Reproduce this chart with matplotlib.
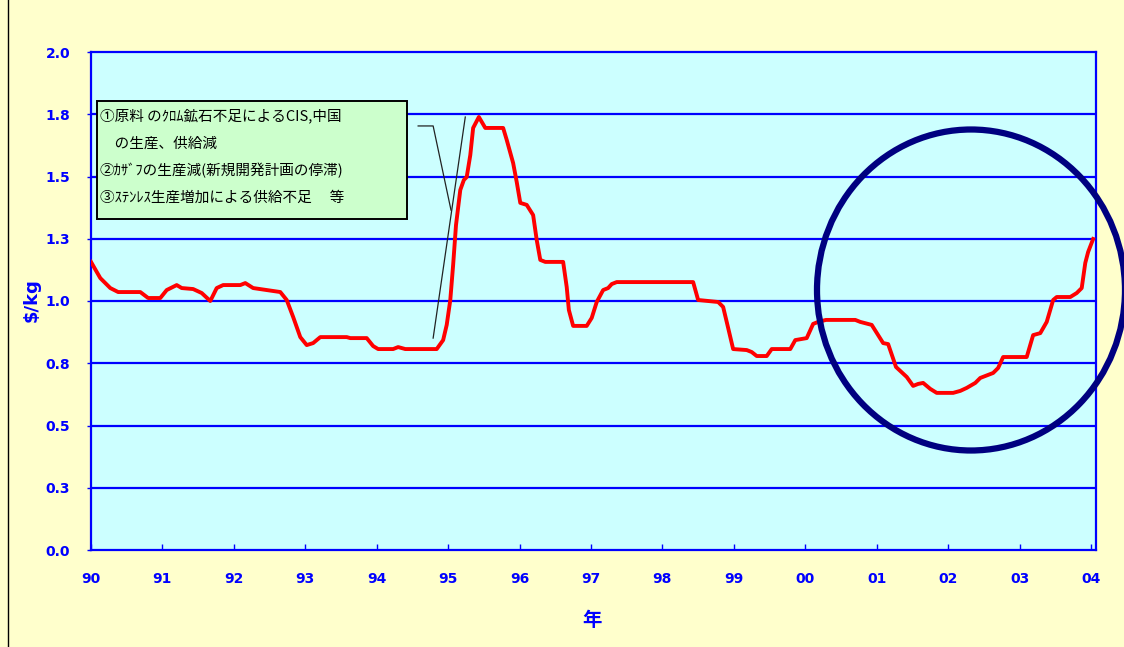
import matplotlib
matplotlib.use("Agg")
import matplotlib.pyplot as plt
from matplotlib.patches import Ellipse, Rectangle
from matplotlib.lines import Line2D

# years since Jan 1990 / price in $/kg
years = [0.00, 0.13, 0.27, 0.38, 0.69, 0.80, 0.97, 1.06, 1.20, 1.27,
         1.43, 1.55, 1.67, 1.76, 1.85, 2.09, 2.16, 2.27, 2.46, 2.65,
         2.74, 2.83, 2.93, 3.02, 3.11, 3.21, 3.58, 3.63, 3.86, 3.95,
         4.02, 4.23, 4.30, 4.40, 4.84, 4.93, 4.98, 5.03, 5.07, 5.11,
         5.17, 5.22, 5.26, 5.31, 5.35, 5.43, 5.52, 5.77, 5.82, 5.91,
         5.96, 6.01, 6.10, 6.19, 6.24, 6.29, 6.36, 6.61, 6.66, 6.69,
         6.75, 6.94, 7.01, 7.08, 7.17, 7.24, 7.29, 7.36, 8.43, 8.50,
         8.78, 8.85, 8.92, 8.99, 9.18, 9.25, 9.32, 9.46, 9.53, 9.79,
         9.86, 10.02, 10.11, 10.18, 10.29, 10.70, 10.77, 10.93, 11.09, 11.16,
         11.27, 11.42, 11.51, 11.58, 11.65, 11.75, 11.84, 12.07, 12.17, 12.26,
         12.38, 12.45, 12.63, 12.70, 12.77, 13.10, 13.19, 13.29, 13.38, 13.47,
         13.52, 13.71, 13.80, 13.87, 13.92, 13.96, 14.03]
price = [1.157, 1.092, 1.052, 1.036, 1.036, 1.012, 1.012, 1.044, 1.064, 1.052,
         1.048, 1.032, 1.000, 1.052, 1.064, 1.064, 1.072, 1.052, 1.044, 1.036,
         1.004, 0.936, 0.855, 0.823, 0.831, 0.855, 0.855, 0.851, 0.851, 0.819,
         0.807, 0.807, 0.815, 0.807, 0.807, 0.843, 0.904, 1.004, 1.145, 1.305,
         1.446, 1.486, 1.498, 1.586, 1.695, 1.739, 1.695, 1.695, 1.647, 1.554,
         1.478, 1.394, 1.386, 1.345, 1.245, 1.165, 1.157, 1.157, 1.056, 0.964,
         0.900, 0.900, 0.932, 0.996, 1.044, 1.052, 1.068, 1.076, 1.076, 1.004,
         0.996, 0.976, 0.892, 0.807, 0.803, 0.795, 0.779, 0.779, 0.807, 0.807,
         0.843, 0.851, 0.908, 0.916, 0.924, 0.924, 0.916, 0.904, 0.831, 0.827,
         0.735, 0.695, 0.659, 0.667, 0.671, 0.647, 0.631, 0.631, 0.639, 0.651,
         0.671, 0.691, 0.711, 0.731, 0.775, 0.775, 0.863, 0.871, 0.916, 1.004,
         1.016, 1.016, 1.032, 1.052, 1.153, 1.197, 1.249]

xtick_labels = ['90', '91', '92', '93', '94', '95', '96', '97', '98', '99',
                '00', '01', '02', '03', '04']
ytick_vals = [0, 0.25, 0.5, 0.75, 1.0, 1.25, 1.5, 1.75, 2.0]
ytick_labels = ['0.0', '0.3', '0.5', '0.8', '1.0', '1.3', '1.5', '1.8', '2.0']

note_lines = [
    "①原料 のｸﾛﾑ鉱石不足によるCIS,中国",
    "　の生産、供給減",
    "②ｶｻﾞﾌの生産減(新規開発計画の停滞)",
    "③ｽﾃﾝﾚｽ生産増加による供給不足　 等",
]

blue = '#0000FF'
cjk = ['Noto Sans CJK JP', 'DejaVu Sans']
W, H = 1124, 647

fig = plt.figure(figsize=(11.24, 6.47), dpi=100, facecolor='#FFFFCC')
ax = fig.add_axes([91/W, 1-550/H, 1005/W, 498/H])
ax.set_facecolor('#CCFFFF')

for v in ytick_vals[1:-1]:
    ax.axhline(v, color=blue, lw=1.6, zorder=1)

ax.plot(years, price, color='#FF0000', lw=2.8, zorder=3, solid_joinstyle='round')

ax.set_xlim(0, 14.07)
ax.set_ylim(0, 2.0)
ax.set_xticks(range(15))
ax.set_xticklabels(xtick_labels)
ax.set_yticks(ytick_vals)
ax.set_yticklabels(ytick_labels)
for s in ax.spines.values():
    s.set_color(blue)
    s.set_linewidth(1.6)
ax.tick_params(axis='x', direction='in', length=4, color=blue, width=1,
               labelcolor=blue, labelsize=10, pad=16)
ax.tick_params(axis='y', direction='out', length=3, color=blue, width=1,
               labelcolor=blue, labelsize=10, pad=12)
for t in ax.get_xticklabels() + ax.get_yticklabels():
    t.set_fontweight('bold')

fig.text(32/W, 1-300/H, '$/kg', rotation=90, color=blue, fontsize=13,
         fontweight='bold', ha='center', va='center')
fig.text(592/W, 1-620/H, '年', family=cjk, color=blue, fontsize=14,
         fontweight='bold', ha='center', va='center')

# note box
ax.add_patch(Rectangle((97/W, 1-219/H), 310/W, 118/H, transform=fig.transFigure,
                       fc='#CCFFCC', ec='black', lw=1.4, zorder=5, clip_on=False))
for i, line in enumerate(note_lines):
    ax.text(100/W, 1-(116 + 27.3*i)/H, line, transform=fig.transFigure,
            family=cjk, fontsize=10.5, color='black', va='center', ha='left',
            zorder=6)

# callout lines
ax.add_line(Line2D([4.58, 4.79, 5.04], [1.703, 1.703, 1.365], color='#222222', lw=0.9, zorder=4))
ax.add_line(Line2D([4.79, 5.24], [0.851, 1.739], color='#222222', lw=0.9, zorder=4))

# highlight circle
fig.patches.append(Ellipse((971/W, 1-290/H), 308/W, 321/H,
                           transform=fig.transFigure, fill=False,
                           ec='#000080', lw=4.5, zorder=10))
# left frame edge
fig.add_artist(Line2D([8/W, 8/W], [0, 1], color='black', lw=1,
                      transform=fig.transFigure))

fig.savefig('out.png', dpi=100, facecolor=fig.get_facecolor())
